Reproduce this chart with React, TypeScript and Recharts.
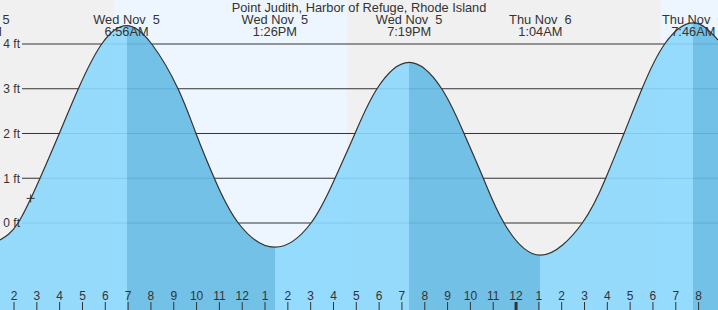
import React from 'react';
import {
  ComposedChart,
  Area,
  XAxis,
  YAxis,
  CartesianGrid,
  ReferenceLine,
  ReferenceDot,
} from 'recharts';

const TITLE = 'Point Judith, Harbor of Refuge, Rhode Island';

// hours since Wed Nov 5 00:00
const tideHours = [
  1.386, 2.175, 3.139, 3.985, 4.818, 5.843, 6.933, 8.034, 9.187, 9.975, 10.777,
  11.829, 13.433, 15.015, 16.067, 16.943, 17.907, 19.317, 20.742, 21.72, 22.565,
  23.472, 25.067, 26.904, 27.929, 28.731, 29.52, 30.514, 31.767, 32.85,
];
const tideFeet = [
  -0.38, 0, 1, 2, 3, 4, 4.41, 4, 3, 2, 1, 0, -0.54, 0, 1, 2, 3, 3.59, 3, 2, 1, 0,
  -0.72, 0, 1, 2, 3, 4, 4.47, 4.09,
];

const extremeHours = [0.35, 6.933, 13.433, 19.317, 25.067, 31.767];
const extremeDays = ['Wed Nov  5', 'Wed Nov  5', 'Wed Nov  5', 'Wed Nov  5', 'Thu Nov  6', 'Thu Nov  6'];
const extremeTimes = ['12:21AM', '6:56AM', '1:26PM', '7:19PM', '1:04AM', '7:46AM'];
const extremeKinds = ['low', 'high', 'low', 'high', 'low', 'high'];

// sunrise, sunset, sunrise
const sunHours = [6.38, 16.59, 30.35];

const hourTicks = [
  2, 3, 4, 5, 6, 7, 8, 9, 10, 11, 12, 13, 14, 15, 16, 17, 18, 19, 20, 21, 22, 23, 24,
  25, 26, 27, 28, 29, 30, 31, 32,
];
const footTicks = [0, 1, 2, 3, 4];

const nowHour = 2.73;
const nowFeet = 0.55;

const xDomain: [number, number] = [1.386, 32.85];
const yDomain: [number, number] = [-1.944, 4.983];

const W = 718;
const H = 310;
const FONT = '"Liberation Sans", Arial, sans-serif';
const TEXT = '#333333';
const NIGHT = '#f0f0f0';
const DAY = '#edf6fe';
const WATER = '#8bd8fd';
const WATER_FALL = '#65bbe4';

const data = tideHours.map((t, i) => ({ t, level: tideFeet[i] }));

const frac = (t: number) => Math.min(1, Math.max(0, (t - xDomain[0]) / (xDomain[1] - xDomain[0])));

// falling-tide segments: from each high to the following low
const fallSegments: [number, number][] = [];
extremeKinds.forEach((k, i) => {
  if (k === 'high') {
    const end = i + 1 < extremeHours.length ? extremeHours[i + 1] : xDomain[1];
    fallSegments.push([extremeHours[i], end]);
  }
});

const HourTick = (props: any) => {
  const { x, y, payload } = props;
  const h = payload.value as number;
  const label = String(h % 12 === 0 ? 12 : h % 12);
  const midnight = h % 24 === 0;
  return (
    <g>
      <line x1={x} x2={x} y1={y + 2} y2={y + 10} stroke={TEXT} strokeWidth={midnight ? 3 : 1} />
      <text x={x} y={y} textAnchor="middle" fontSize={12} fill={TEXT} fontFamily={FONT}>
        {label}
      </text>
    </g>
  );
};

const FootTick = (props: any) => {
  const { y, payload } = props;
  return (
    <text x={20} y={y + 4.3} textAnchor="end" fontSize={12} fill={TEXT} fontFamily={FONT}>
      {`${payload.value} ft`}
    </text>
  );
};

const ExtremeLabel = (props: any) => {
  const { viewBox, day, time } = props;
  const x = viewBox ? viewBox.x : 0;
  return (
    <g>
      <text x={x} y={24} textAnchor="middle" fontSize={12.8} fill={TEXT} fontFamily={FONT} style={{ whiteSpace: 'pre' }}>
        {day}
      </text>
      <text x={x} y={36} textAnchor="middle" fontSize={12.8} fill={TEXT} fontFamily={FONT}>
        {time}
      </text>
    </g>
  );
};

const GridLine = (props: any) => (
  <line x1={props.x1 + 22} x2={props.x2} y1={props.y1} y2={props.y2} stroke={TEXT} strokeWidth={1} />
);

const NowMarker = (props: any) => {
  const { cx, cy } = props;
  return <path d={`M${cx - 4},${cy}h8M${cx},${cy - 4}v8`} stroke={TEXT} strokeWidth={1} fill="none" />;
};

export default function App() {
  const stops: React.ReactNode[] = [];
  let cursor = 0;
  fallSegments.forEach(([a, b], i) => {
    stops.push(<stop key={`l${i}a`} offset={frac(cursor)} stopColor={WATER} />);
    stops.push(<stop key={`l${i}b`} offset={frac(a)} stopColor={WATER} />);
    stops.push(<stop key={`d${i}a`} offset={frac(a)} stopColor={WATER_FALL} />);
    stops.push(<stop key={`d${i}b`} offset={frac(b)} stopColor={WATER_FALL} />);
    cursor = b;
  });
  stops.push(<stop key="endA" offset={frac(cursor)} stopColor={WATER} />);
  stops.push(<stop key="endB" offset={1} stopColor={WATER} />);

  return (
    <div style={{ position: 'fixed', left: 0, top: 0, width: W, height: H }}>
      <ComposedChart width={W} height={H} data={data} margin={{ top: 0, right: 0, bottom: 0, left: 0 }}>
        <defs>
          <linearGradient id="waterGrad" x1="0" y1="0" x2="1" y2="0">
            {stops}
          </linearGradient>
        </defs>
        <CartesianGrid
          horizontal={false}
          vertical={() => <g />}
          verticalValues={sunHours}
          verticalFill={[NIGHT, DAY]}
          stroke="none"
        />
        <CartesianGrid horizontal={GridLine} vertical={false} horizontalValues={footTicks} />
        <XAxis
          dataKey="t"
          type="number"
          domain={xDomain}
          allowDataOverflow
          ticks={hourTicks}
          interval={0}
          mirror
          tickSize={8}
          tickMargin={2}
          axisLine={false}
          tickLine={false}
          tick={HourTick}
        />
        <YAxis
          type="number"
          domain={yDomain}
          allowDataOverflow
          ticks={footTicks}
          interval={0}
          mirror
          axisLine={false}
          tickLine={false}
          tick={FootTick}
        />
        <Area
          type="natural"
          dataKey="level"
          baseValue="dataMin"
          fill="url(#waterGrad)"
          fillOpacity={0.9}
          stroke={TEXT}
          strokeWidth={1.2}
          isAnimationActive={false}
          dot={false}
          activeDot={false}
        />
        <ReferenceDot x={nowHour} y={nowFeet} shape={NowMarker} ifOverflow="visible" />
        {extremeHours.map((t, i) => (
          <ReferenceLine
            key={`ex${i}`}
            x={t}
            stroke="none"
            ifOverflow="visible"
            label={<ExtremeLabel day={extremeDays[i]} time={extremeTimes[i]} />}
          />
        ))}
      </ComposedChart>
      <svg width={W} height={20} style={{ position: 'absolute', left: 0, top: 0, pointerEvents: 'none' }}>
        <text x={359} y={12} textAnchor="middle" fontSize={12.8} fill={TEXT} fontFamily={FONT}>
          {TITLE}
        </text>
      </svg>
    </div>
  );
}
